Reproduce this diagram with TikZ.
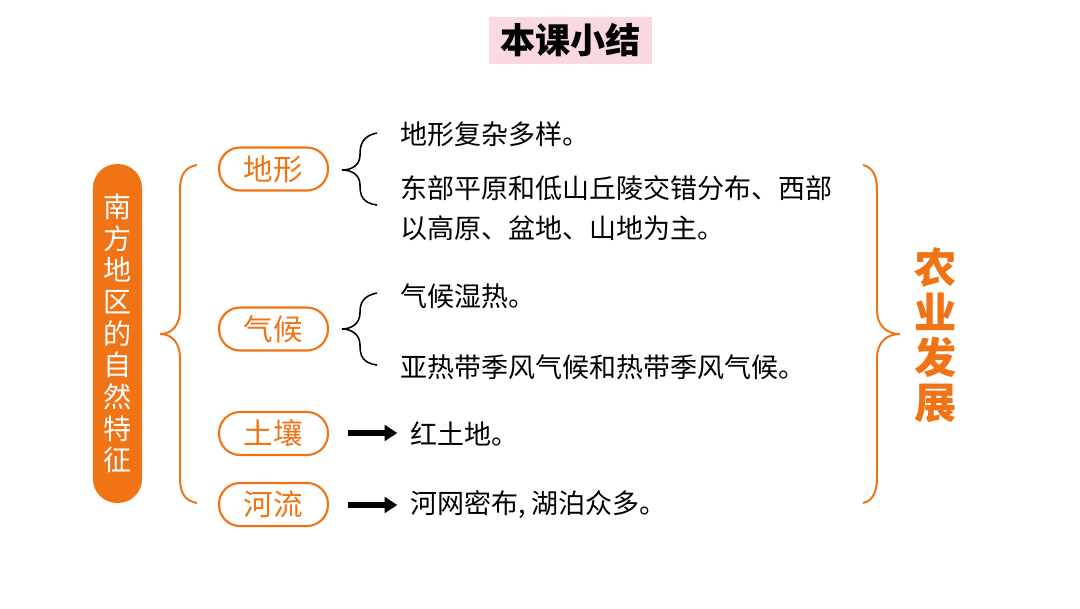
\documentclass[tikz,border=0pt]{standalone}
\usepackage{fontspec}
\setmainfont{Noto Sans CJK SC}
\usetikzlibrary{arrows.meta}
\definecolor{org}{RGB}{240,115,22}
\definecolor{pinkbg}{RGB}{249,217,223}
\tikzset{
  pill/.style={draw=org, line width=1.5pt, fill=white, rounded corners=15pt, minimum width=77.5pt, minimum height=30.6pt, inner sep=0pt, text=org, font=\fontsize{21}{24}\selectfont},
  body/.style={anchor=west, inner sep=0pt, align=left, text=black, font=\fontsize{19.2}{28.5}\selectfont},
  obrace/.style={draw=org, line width=1.4pt},
  kbrace/.style={draw=black, line width=1.1pt},
  fatarrow/.style={draw=black, line width=4pt, -{Triangle[length=9pt,width=11pt]}},
}
\begin{document}
\begin{tikzpicture}[x=0.025cm, y=-0.025cm]
\useasboundingbox (0,0) rectangle (1080,608);
% title
\node[fill=pinkbg, minimum width=116pt, minimum height=33.4pt, inner sep=0pt, font=\fontsize{25}{28}\selectfont\bfseries] (title) at (570.5,40.5) {本课小结};
% left box
\node[fill=org, rounded corners=17pt, minimum width=34.9pt, minimum height=241pt, inner sep=0pt, text=white, align=center, font=\fontsize{20}{22.5}\selectfont] (main) at (117.5,333.5) {南\\方\\地\\区\\的\\自\\然\\特\\征};
% left brace
\draw[obrace] (197,165) .. controls (185,167) and (180,175) .. (180,190) -- (180,310) .. controls (180,325) and (172,334) .. (160,334) .. controls (172,334) and (180,343) .. (180,358) -- (180,478) .. controls (180,493) and (185,501) .. (197,503);
% pills
\node[pill] (terrain) at (273.5,169) {地形};
\node[pill] (climate) at (273.5,329) {气候};
\node[pill] (soil) at (273.5,433.5) {土壤};
\node[pill] (river) at (273.5,504.5) {河流};
% black braces
\draw[kbrace] (377,133) .. controls (362,136) and (360,145) .. (360,155) .. controls (360,165) and (352,170) .. (342,170) .. controls (352,170) and (360,175) .. (360,185) .. controls (360,195) and (362,203) .. (377,205);
\draw[kbrace] (377,293) .. controls (362,296) and (360,304) .. (360,313) .. controls (360,323) and (352,329) .. (342,329) .. controls (352,329) and (360,335) .. (360,345) .. controls (360,355) and (362,363) .. (377,365);
% texts
\node[body] (t1) at (400,134) {地形复杂多样。};
\node[body] (t2) at (400,208) {东部平原和低山丘陵交错分布、西部\\以高原、盆地、山地为主。};
\node[body] (c1) at (400,296) {气候湿热。};
\node[body] (c2) at (400,367) {亚热带季风气候和热带季风气候。};
\node[body] (s1) at (410,434) {红土地。};
\node[body] (r1) at (410,505) {河网密布, 湖泊众多。};
% arrows
\draw[fatarrow, shorten <=13.5pt, shorten >=9pt] (soil.east |- 0,433) -- (s1.west |- 0,433);
\draw[fatarrow, shorten <=13.5pt, shorten >=9pt] (river.east |- 0,505) -- (r1.west |- 0,505);
% right brace
\draw[obrace] (863,165) .. controls (872,167) and (877,175) .. (877,190) -- (877,310) .. controls (877,325) and (886,334) .. (900,334) .. controls (886,334) and (877,343) .. (877,358) -- (877,478) .. controls (877,493) and (872,501) .. (863,503);
% agriculture
\node[text=org, align=center, inner sep=0pt, font=\fontsize{30}{32}\selectfont\bfseries] (agri) at (936,335) {农\\业\\发\\展};
\end{tikzpicture}
\end{document}
